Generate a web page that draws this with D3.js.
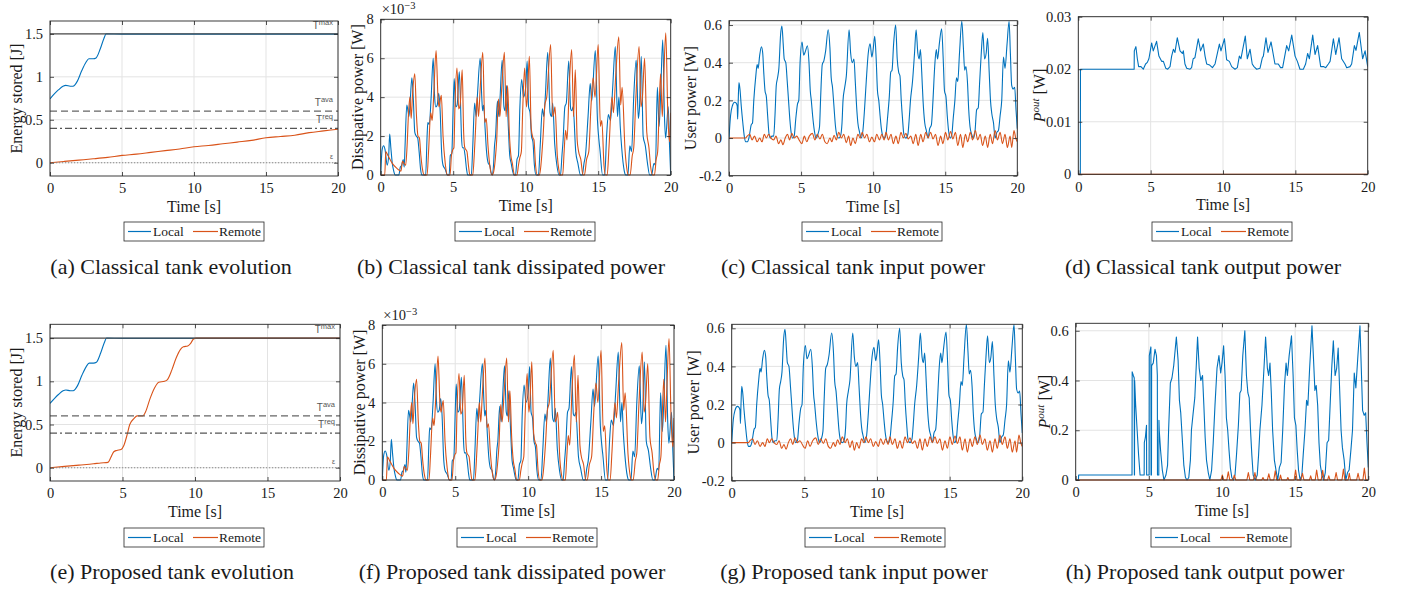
<!DOCTYPE html>
<html>
<head>
<meta charset="utf-8">
<script src="https://cdn.jsdelivr.net/npm/d3@7"></script>
<style>
  body { margin: 0; background: #fff; }
  svg { display: block; }
  text { font-family: "Liberation Serif", "Times New Roman", serif; fill: #1a1a1a; }
  .tlabel { font-family: "Liberation Sans", Arial, sans-serif; fill: #555; }
</style>
</head>
<body>
<svg id="fig" width="1403" height="589"></svg>
<script>
// ---------- time axis and tick labels ----------
const timeTicks = [0, 5, 10, 15, 20];
const energyTicks = [0, 0.5, 1, 1.5];
const dissTicks = [0, 2, 4, 6, 8];              // ×10^-3 W
const userTicks = [-0.2, 0, 0.2, 0.4, 0.6];
const outClassicTicks = [0, 0.01, 0.02, 0.03];
const outProposedTicks = [0, 0.2, 0.4, 0.6];

// ---------- tank thresholds [J] ----------
const thresholdNames = ["max", "ava", "req", "eps"];
const thresholdValues = [1.5, 0.6, 0.4, 0];

// ---------- stored energy [J] : [time s, value] ----------
const energyLocal = [[0,0.744],[0.3,0.8],[0.6,0.85],[0.9,0.89],[1.1,0.9],[1.4,0.89],[1.6,0.89],[1.9,0.95],[2.2,1.07],[2.5,1.17],[2.7,1.21],[3.0,1.21],[3.2,1.22],[3.5,1.33],[3.75,1.45],[3.9,1.5],[5,1.497],[10,1.497],[20,1.497]];
const energyRemoteClassic = [[0,0],[1,0.015],[2,0.03],[3,0.045],[4,0.062],[5,0.085],[6,0.1],[7,0.12],[8,0.14],[9,0.16],[10,0.185],[11,0.2],[12,0.22],[13,0.24],[14,0.26],[15,0.29],[16,0.305],[17,0.32],[18,0.35],[19,0.37],[20,0.39]];
const energyRemoteProposed = [[0,0],[2,0.03],[3,0.045],[3.5,0.055],[4.0,0.062],[4.2,0.12],[4.4,0.185],[4.6,0.2],[4.9,0.21],[5.1,0.26],[5.3,0.37],[5.5,0.5],[5.8,0.57],[6.0,0.6],[6.4,0.6],[6.6,0.65],[6.9,0.8],[7.2,0.92],[7.5,0.99],[7.9,1.0],[8.1,1.02],[8.4,1.13],[8.7,1.27],[9.0,1.37],[9.2,1.4],[9.5,1.41],[9.7,1.44],[9.9,1.49],[10.1,1.5],[20,1.5]];

// ---------- dissipated power [10^-3 W] ----------
const dissLocal = [[0,0],[0.1,1.3],[0.2,1.5],[0.3,1.3],[0.45,0.5],[0.55,1.0],[0.62,2.1],[0.7,1.4],[0.8,0.6],[0.9,0.2],[1.0,0],[1.25,0],[1.35,0.4],[1.45,0.5],[1.55,0.8],[1.62,0.4],[1.68,1.5],[1.8,3.6],[1.9,3.2],[1.95,3.0],[2.05,4.0],[2.15,5.0],[2.25,3.9],[2.35,2.2],[2.45,2.0],[2.55,1.9],[2.65,1.2],[2.75,0.3],[2.85,0],[3.1,0],[3.2,2.0],[3.25,2.7],[3.35,2.6],[3.48,4.0],[3.62,6.0],[3.72,4.0],[3.8,3.5],[3.9,3.6],[4.0,4.2],[4.1,3.3],[4.2,1.2],[4.3,0.5],[4.45,0.3],[4.6,0],[4.72,0],[4.8,1.0],[4.9,1.1],[5.0,3.5],[5.07,4.95],[5.17,3.5],[5.27,3.6],[5.42,5.3],[5.5,3.8],[5.57,2.0],[5.63,1.4],[5.72,1.4],[5.82,1.0],[5.92,0.3],[6.0,0],[6.25,0],[6.35,1.5],[6.48,3.7],[6.58,3.0],[6.68,4.2],[6.86,6.0],[6.97,4.0],[7.03,3.3],[7.1,3.6],[7.2,2.4],[7.3,1.2],[7.42,0.6],[7.52,0.5],[7.62,0.1],[7.7,0],[7.78,0.5],[7.85,1.5],[7.92,2.0],[8.05,3.8],[8.15,3.0],[8.22,3.8],[8.38,5.9],[8.5,3.5],[8.58,3.3],[8.68,4.6],[8.8,2.5],[8.9,1.0],[9.0,0.6],[9.1,0.2],[9.18,0],[9.3,0],[9.4,0.8],[9.5,1.0],[9.6,3.5],[9.72,4.9],[9.85,4.0],[10.0,4.5],[10.1,5.85],[10.2,3.5],[10.3,3.2],[10.4,2.0],[10.5,1.7],[10.6,0.5],[10.72,0],[10.88,0],[11.0,1.5],[11.15,3.4],[11.25,3.0],[11.35,4.0],[11.52,6.3],[11.68,3.2],[11.78,3.0],[11.86,3.7],[12.0,1.6],[12.15,0.5],[12.3,0],[12.4,0],[12.5,1.0],[12.58,1.8],[12.7,3.5],[12.8,3.7],[12.97,5.85],[13.1,3.4],[13.18,3.3],[13.27,3.5],[13.45,1.2],[13.6,0.6],[13.78,0],[13.9,0],[14.02,0.6],[14.12,1.0],[14.3,3.0],[14.45,4.7],[14.55,3.8],[14.8,6.4],[14.95,2.8],[15.05,1.8],[15.12,1.3],[15.3,0],[15.45,0],[15.58,2.0],[15.7,3.1],[15.85,2.8],[16.0,4.5],[16.18,6.6],[16.33,3.0],[16.43,4.0],[16.52,2.5],[16.62,1.4],[16.8,0.2],[16.9,0],[17.05,0],[17.18,1.5],[17.3,1.2],[17.45,4.0],[17.62,5.9],[17.77,2.9],[17.85,3.5],[17.97,6.1],[18.1,2.0],[18.25,1.5],[18.4,0.6],[18.55,0],[18.68,0],[18.85,0.6],[18.95,0.5],[19.08,4.5],[19.2,2.5],[19.3,4.0],[19.45,6.95],[19.57,3.0],[19.65,1.9],[19.83,3.5],[19.92,1.5],[20,0]];
const dissRemote = [[0,0],[0.28,0],[0.35,1.2],[0.5,1.0],[0.8,0.6],[1.1,0.35],[1.4,0.2],[1.5,0.7],[1.6,0.6],[1.72,0.5],[1.82,1.5],[1.92,3.2],[2.02,4.0],[2.1,2.9],[2.2,4.2],[2.35,5.2],[2.47,3.0],[2.57,2.0],[2.67,1.9],[2.77,1.0],[2.88,0.3],[3.0,0],[3.2,0],[3.3,1.2],[3.45,3.2],[3.55,2.8],[3.65,4.0],[3.82,6.4],[3.95,4.0],[4.02,3.5],[4.18,4.1],[4.3,2.0],[4.45,0.6],[4.6,0],[4.78,0],[4.88,1.0],[4.97,1.3],[5.05,1.4],[5.12,3.5],[5.26,5.5],[5.38,3.4],[5.48,3.6],[5.62,5.4],[5.72,2.2],[5.8,1.4],[5.95,1.2],[6.05,0.5],[6.15,0],[6.35,0],[6.45,1.0],[6.55,2.5],[6.65,4.0],[6.75,3.0],[6.85,4.3],[7.04,6.3],[7.18,2.7],[7.28,2.9],[7.4,1.5],[7.52,0.5],[7.68,0],[7.8,0.2],[7.9,0.8],[8.0,1.8],[8.12,3.9],[8.22,3.0],[8.35,4.5],[8.53,6.3],[8.65,3.0],[8.75,4.6],[8.87,2.2],[8.98,1.0],[9.08,0.6],[9.22,0],[9.4,0],[9.5,0.5],[9.6,0.9],[9.7,1.2],[9.8,3.5],[9.93,5.5],[10.05,3.5],[10.12,4.0],[10.25,6.1],[10.38,2.4],[10.5,1.9],[10.57,1.8],[10.68,0.5],[10.8,0],[10.95,0],[11.05,0.5],[11.2,2.0],[11.32,3.6],[11.45,4.0],[11.72,6.7],[11.86,3.0],[11.95,3.2],[12.02,3.5],[12.18,1.0],[12.28,0.3],[12.38,0],[12.55,0],[12.65,1.2],[12.75,2.3],[12.85,1.8],[13.0,4.5],[13.17,6.45],[13.3,3.0],[13.42,5.4],[13.55,1.8],[13.65,1.2],[13.8,0.8],[13.95,0],[14.05,0],[14.2,0.8],[14.35,1.2],[14.5,3.5],[14.65,5.0],[14.78,4.0],[15.0,6.7],[15.15,2.5],[15.25,2.8],[15.4,0.5],[15.5,0],[15.62,0],[15.75,1.5],[15.95,4.0],[16.05,3.2],[16.2,5.0],[16.42,7.1],[16.55,3.6],[16.65,4.5],[16.85,1.3],[17.0,0.2],[17.08,0],[17.2,0],[17.35,1.0],[17.45,1.4],[17.6,4.0],[17.82,6.6],[17.95,3.5],[18.05,4.0],[18.2,6.0],[18.35,2.2],[18.5,1.4],[18.62,0.4],[18.75,0],[18.88,0],[19.0,0.8],[19.1,1.2],[19.3,5.2],[19.42,3.0],[19.5,4.5],[19.66,7.3],[19.8,3.2],[19.88,2.0],[19.93,1.7],[20,3.2]];

// ---------- user (input) power [W] ----------
const userLocal = [[0,0],[0.11,0.12],[0.23,0.17],[0.39,0.19],[0.5,0.185],[0.57,0.17],[0.6,0.1],[0.64,0.2],[0.69,0.295],[0.76,0.26],[0.85,0.17],[0.96,0.08],[1.06,0.01],[1.15,-0.02],[1.26,-0.02],[1.38,0],[1.47,0.04],[1.54,0.07],[1.63,0.08],[1.72,0.2],[1.86,0.33],[1.95,0.39],[2.02,0.37],[2.13,0.44],[2.25,0.485],[2.34,0.45],[2.41,0.35],[2.5,0.25],[2.59,0.22],[2.68,0.12],[2.78,0.02],[2.87,0],[2.98,0.01],[3.1,0.01],[3.19,0.12],[3.28,0.28],[3.37,0.32],[3.46,0.37],[3.58,0.55],[3.67,0.595],[3.76,0.5],[3.83,0.42],[3.94,0.4],[4.04,0.3],[4.13,0.2],[4.22,0.1],[4.31,0.03],[4.4,0],[4.52,0.01],[4.63,0.1],[4.75,0.18],[4.84,0.2],[4.93,0.4],[5.07,0.51],[5.18,0.44],[5.3,0.46],[5.44,0.49],[5.55,0.4],[5.64,0.25],[5.71,0.2],[5.8,0.12],[5.92,0.04],[6.03,0],[6.17,0.02],[6.28,0.06],[6.35,0.2],[6.47,0.39],[6.58,0.41],[6.7,0.46],[6.88,0.575],[7.0,0.48],[7.09,0.32],[7.18,0.27],[7.27,0.18],[7.39,0.06],[7.5,0.01],[7.61,0],[7.73,0.01],[7.84,0.08],[7.91,0.2],[8.03,0.27],[8.14,0.33],[8.33,0.575],[8.44,0.45],[8.55,0.4],[8.67,0.42],[8.76,0.3],[8.85,0.17],[8.94,0.08],[9.06,0.03],[9.17,0],[9.29,0.04],[9.4,0.15],[9.52,0.3],[9.66,0.45],[9.79,0.5],[9.91,0.43],[10.0,0.47],[10.11,0.54],[10.21,0.42],[10.3,0.25],[10.39,0.2],[10.48,0.12],[10.57,0.05],[10.67,0.01],[10.78,0],[10.89,0.02],[10.99,0.1],[11.12,0.22],[11.22,0.35],[11.31,0.36],[11.42,0.5],[11.56,0.6],[11.67,0.42],[11.77,0.35],[11.86,0.33],[11.95,0.2],[12.04,0.1],[12.13,0.02],[12.27,0],[12.41,0.02],[12.5,0.1],[12.59,0.2],[12.73,0.3],[12.87,0.45],[12.98,0.575],[13.1,0.45],[13.19,0.42],[13.28,0.47],[13.37,0.35],[13.46,0.2],[13.58,0.08],[13.69,0.04],[13.81,0],[13.92,0.05],[14.04,0.07],[14.15,0.2],[14.27,0.38],[14.38,0.47],[14.47,0.42],[14.59,0.5],[14.75,0.58],[14.86,0.42],[14.95,0.25],[15.05,0.22],[15.14,0.12],[15.23,0.04],[15.34,0],[15.46,0.02],[15.55,0.1],[15.67,0.2],[15.78,0.32],[15.87,0.3],[15.99,0.45],[16.15,0.62],[16.26,0.48],[16.35,0.36],[16.44,0.38],[16.54,0.3],[16.63,0.15],[16.72,0.06],[16.83,0.02],[16.95,0],[17.06,0.03],[17.18,0.15],[17.29,0.16],[17.39,0.3],[17.5,0.45],[17.61,0.56],[17.73,0.42],[17.84,0.45],[17.94,0.53],[18.05,0.35],[18.14,0.2],[18.23,0.13],[18.35,0.08],[18.46,0],[18.58,0.03],[18.69,0.04],[18.81,0.12],[18.92,0.2],[19.04,0.43],[19.15,0.37],[19.29,0.5],[19.43,0.62],[19.52,0.45],[19.61,0.28],[19.72,0.26],[19.82,0.27],[19.91,0.15],[20,0.05]];
const userRemote = [[0,0],[1.15,0],[1.26,0.01],[1.44,0.02],[1.6,-0.01],[1.77,0.01],[1.95,-0.02],[2.13,0],[2.29,-0.02],[2.45,0.02],[2.59,0],[2.75,0.02],[2.91,0],[3.1,-0.01],[3.26,0.01],[3.44,-0.03],[3.6,-0.01],[3.74,-0.035],[3.9,0],[4.06,0.02],[4.2,-0.01],[4.36,0.025],[4.52,0],[4.7,0.01],[4.86,-0.01],[5.05,-0.03],[5.23,0.01],[5.39,-0.02],[5.57,0.01],[5.78,0.025],[5.96,-0.01],[6.12,0.02],[6.31,-0.005],[6.47,0.02],[6.65,-0.02],[6.81,-0.03],[7.0,0],[7.13,-0.02],[7.29,0.015],[7.45,-0.01],[7.61,0.03],[7.8,0],[7.96,0.02],[8.14,-0.025],[8.3,0.01],[8.44,-0.04],[8.6,0],[8.76,-0.03],[8.94,0.02],[9.1,0],[9.24,0.03],[9.4,0],[9.56,0.02],[9.75,-0.02],[9.91,0.005],[10.09,-0.02],[10.25,0.02],[10.44,-0.01],[10.6,0.02],[10.76,-0.01],[10.89,0.03],[11.06,-0.01],[11.24,0.02],[11.4,-0.03],[11.58,0.01],[11.74,-0.03],[11.93,0.03],[12.09,0],[12.27,0.025],[12.43,-0.005],[12.61,0.01],[12.78,-0.03],[12.96,0.02],[13.12,-0.04],[13.3,0.02],[13.46,-0.02],[13.65,0.03],[13.81,0],[13.99,0.03],[14.15,-0.005],[14.33,0.02],[14.5,-0.04],[14.68,0.01],[14.84,-0.03],[15.02,0.03],[15.18,-0.01],[15.37,0.035],[15.53,-0.005],[15.71,0.03],[15.87,-0.04],[16.06,0.02],[16.22,-0.05],[16.4,0.02],[16.56,-0.02],[16.74,0.03],[16.9,-0.01],[17.09,0.04],[17.25,-0.01],[17.43,0.02],[17.59,-0.04],[17.78,0.01],[17.94,-0.05],[18.12,0.02],[18.28,-0.03],[18.46,0.04],[18.62,-0.01],[18.81,0.03],[18.97,-0.03],[19.15,0.02],[19.31,-0.05],[19.5,0.01],[19.61,-0.05],[19.77,0.04],[19.89,0],[20,-0.02]];

// ---------- output power, classical tank [W] ----------
const outLocalClassic = [[0,0],[0.14,0],[0.15,0.02],[3.86,0.02],[3.87,0.0235],[3.98,0.0243],[4.08,0.022],[4.17,0.0205],[4.33,0.0205],[4.49,0.02],[4.65,0.021],[4.77,0.0213],[4.88,0.022],[5.07,0.025],[5.18,0.0235],[5.41,0.0253],[5.57,0.0225],[5.76,0.0215],[5.88,0.0215],[6.04,0.0202],[6.18,0.02],[6.34,0.0205],[6.45,0.0225],[6.57,0.0238],[6.68,0.0232],[6.84,0.026],[7.03,0.0235],[7.19,0.023],[7.26,0.0235],[7.37,0.021],[7.49,0.0202],[7.72,0.02],[7.83,0.0203],[7.94,0.022],[8.06,0.0222],[8.29,0.0258],[8.45,0.0235],[8.64,0.0248],[8.76,0.0225],[8.87,0.021],[9.08,0.0208],[9.27,0.0203],[9.45,0.021],[9.75,0.0248],[9.86,0.0235],[10.1,0.0258],[10.25,0.0218],[10.44,0.0215],[10.6,0.0205],[10.83,0.02],[10.99,0.0203],[11.13,0.0225],[11.24,0.022],[11.54,0.0263],[11.68,0.022],[11.87,0.0238],[12.02,0.021],[12.14,0.0205],[12.33,0.02],[12.56,0.0202],[12.72,0.0222],[12.79,0.0225],[12.97,0.026],[13.11,0.0232],[13.32,0.0252],[13.59,0.021],[13.82,0.021],[13.98,0.0203],[14.12,0.0203],[14.4,0.0245],[14.54,0.0235],[14.75,0.0265],[14.98,0.0225],[15.14,0.0215],[15.32,0.02],[15.55,0.02],[15.71,0.021],[15.85,0.023],[15.97,0.022],[16.2,0.0265],[16.36,0.0228],[16.54,0.0245],[16.75,0.0205],[16.94,0.0205],[17.1,0.0203],[17.28,0.021],[17.4,0.0215],[17.63,0.0258],[17.79,0.0228],[18.02,0.026],[18.2,0.022],[18.43,0.021],[18.55,0.0203],[18.78,0.0205],[18.89,0.021],[19.08,0.0245],[19.19,0.0236],[19.42,0.027],[19.65,0.022],[19.82,0.0235],[20,0.0205]];
const outRemoteClassic = [[0,0],[20,0]];

// ---------- output power, proposed tank [W] ----------
// switching phase up to 5.69 s; afterwards the output follows userLocal
const outLocalProposedStart = [[0,0],[0.19,0],[0.2,0.02],[3.85,0.02],[3.86,0.435],[3.94,0.42],[4.0,0.41],[4.01,0.02],[4.02,0.02],[4.03,0.4],[4.1,0.3],[4.2,0.2],[4.3,0.1],[4.4,0.02],[4.68,0.02],[4.69,0.15],[4.76,0.17],[4.84,0.22],[4.85,0.02],[5.02,0.02],[5.03,0.5],[5.14,0.535],[5.15,0.02],[5.18,0.02],[5.19,0.46],[5.3,0.47],[5.42,0.525],[5.52,0.5],[5.58,0.42],[5.59,0.02],[5.68,0.02],[5.69,0.24]];
const outRemoteProposed = [[0,0],[9.93,0],[10.02,0.02],[10.12,0],[10.33,0],[10.43,0.033],[10.53,0],[10.75,0],[10.84,0.02],[10.94,0],[11.7,0],[11.8,0.03],[11.9,0],[12.15,0],[12.25,0.03],[12.35,0],[12.72,0],[12.8,0.01],[12.88,0],[13.1,0],[13.2,0.025],[13.3,0],[13.54,0],[13.64,0.037],[13.74,0],[13.92,0],[14.0,0.02],[14.08,0],[14.43,0],[14.5,0.01],[14.57,0],[14.93,0],[15.03,0.04],[15.13,0],[15.4,0],[15.5,0.027],[15.6,0],[15.98,0],[16.06,0.017],[16.14,0],[16.37,0],[16.47,0.04],[16.57,0],[16.78,0],[16.88,0.039],[16.98,0],[17.22,0],[17.3,0.017],[17.38,0],[17.7,0],[17.8,0.03],[17.9,0],[18.2,0],[18.3,0.044],[18.4,0],[18.62,0],[18.7,0.027],[18.78,0],[19.2,0],[19.3,0.027],[19.4,0],[19.63,0],[19.73,0.048],[19.83,0],[20,0]];
const outLocalProposed = outLocalProposedStart.concat(userLocal.filter(d => d[0] > 5.69));

// ---------- figure ----------
const BLUE = "#0072BD", RED = "#D95319", AXIS = "#262626", GRID = "#e3e3e3";
const svg = d3.select("#fig");
const defs = svg.append("defs");

function legend(left, top) {
  const g = svg.append("g").attr("transform", `translate(${left},${top})`);
  g.append("rect").attr("width", 140).attr("height", 19).attr("fill", "#fff").attr("stroke", AXIS).attr("stroke-width", 0.8);
  g.append("line").attr("x1", 4).attr("x2", 27).attr("y1", 9.5).attr("y2", 9.5).attr("stroke", BLUE).attr("stroke-width", 1.2);
  g.append("text").attr("x", 29).attr("y", 14).attr("font-size", 13.5).text("Local");
  g.append("line").attr("x1", 69).attr("x2", 94).attr("y1", 9.5).attr("y2", 9.5).attr("stroke", RED).attr("stroke-width", 1.2);
  g.append("text").attr("x", 95).attr("y", 14).attr("font-size", 13.5).text("Remote");
}

function panel(p) {
  const x = d3.scaleLinear().domain([0, 20]).range([p.left, p.right]);
  const y = d3.scaleLinear().domain(p.yDomain).range([p.bottom, p.top]);
  const g = svg.append("g");
  const clipId = "clip-" + p.key;
  defs.append("clipPath").attr("id", clipId).append("rect")
    .attr("x", p.left).attr("y", p.top - 1).attr("width", p.right - p.left).attr("height", p.bottom - p.top + 2);

  // grid
  g.append("g").selectAll("line").data(timeTicks).join("line")
    .attr("x1", d => x(d)).attr("x2", d => x(d)).attr("y1", p.top).attr("y2", p.bottom)
    .attr("stroke", GRID).attr("stroke-width", 1);
  g.append("g").selectAll("line").data(p.yTicks).join("line")
    .attr("x1", p.left).attr("x2", p.right).attr("y1", d => y(d)).attr("y2", d => y(d))
    .attr("stroke", GRID).attr("stroke-width", 1);

  // data
  const line = d3.line().x(d => x(d[0])).y(d => y(d[1])).curve(p.curve || d3.curveMonotoneX);
  const data = g.append("g").attr("clip-path", `url(#${clipId})`);
  p.series.forEach(s => {
    data.append("path").datum(s.values).attr("d", line)
      .attr("fill", "none").attr("stroke", s.color).attr("stroke-width", 1.1).attr("stroke-linejoin", "round");
  });

  // tank thresholds
  if (p.thresholds) {
    const dash = { max: null, ava: "7,4", req: "7,3,2,3", eps: "1.2,1.8" };
    const col = { max: "#4d4d4d", ava: "#666", req: "#555", eps: "#888" };
    thresholdNames.forEach((n, i) => {
      const v = thresholdValues[i];
      data.append("line").attr("x1", p.left).attr("x2", p.right).attr("y1", y(v)).attr("y2", y(v))
        .attr("stroke", col[n]).attr("stroke-width", n === "max" ? 1.3 : 1.1)
        .attr("stroke-dasharray", dash[n]);
      const t = g.append("text").attr("class", "tlabel").attr("text-anchor", "end")
        .attr("x", p.right - 5).attr("y", y(v) - 5).attr("font-size", 10);
      if (n === "eps") {
        t.attr("font-size", 7).attr("y", y(v) - 4).text("\u03B5");
      } else {
        t.append("tspan").text("T");
        t.append("tspan").attr("font-size", 7.5).attr("dy", -4).text(n);
      }
    });
  }

  // axes with inward ticks
  const fmt = d => String(d);
  g.append("g").attr("transform", `translate(0,${p.bottom})`)
    .call(d3.axisBottom(x).tickValues(timeTicks).tickFormat(fmt).tickSize(-4).tickPadding(7))
    .call(a => a.select(".domain").remove());
  g.append("g").attr("transform", `translate(0,${p.top})`)
    .call(d3.axisTop(x).tickValues(timeTicks).tickFormat("").tickSize(-4))
    .call(a => a.select(".domain").remove());
  g.append("g").attr("transform", `translate(${p.left},0)`)
    .call(d3.axisLeft(y).tickValues(p.yTicks).tickFormat(fmt).tickSize(-4).tickPadding(7))
    .call(a => a.select(".domain").remove());
  g.append("g").attr("transform", `translate(${p.right},0)`)
    .call(d3.axisRight(y).tickValues(p.yTicks).tickFormat("").tickSize(-4))
    .call(a => a.select(".domain").remove());
  g.selectAll(".tick line").attr("stroke", AXIS).attr("stroke-width", 0.8);
  g.selectAll(".tick text").attr("fill", "#1a1a1a").attr("font-family", "Liberation Serif, serif").attr("font-size", 14.5);
  g.append("rect").attr("x", p.left).attr("y", p.top).attr("width", p.right - p.left).attr("height", p.bottom - p.top)
    .attr("fill", "none").attr("stroke", AXIS).attr("stroke-width", 0.9);

  // labels
  const cx = (p.left + p.right) / 2, cy = (p.top + p.bottom) / 2;
  g.append("text").attr("x", cx).attr("y", p.bottom + 36).attr("text-anchor", "middle").attr("font-size", 16).text("Time [s]");
  const yl = g.append("text").attr("transform", `translate(${p.ylabelX},${cy}) rotate(-90)`)
    .attr("text-anchor", "middle").attr("dy", "0.35em").attr("font-size", 16);
  if (p.ylabelParts) {
    p.ylabelParts(yl);
  } else {
    yl.text(p.ylabel);
  }
  if (p.exponent) {
    const e = g.append("text").attr("x", p.left + 1).attr("y", p.top - 5).attr("font-size", 14.5);
    e.append("tspan").text("\u00D710");
    e.append("tspan").attr("font-size", 10.5).attr("dy", -5).text("\u22123");
  }

  legend(p.legendLeft, p.legendTop);
  g.append("text").attr("x", p.captionX).attr("y", p.captionY).attr("text-anchor", "middle")
    .attr("font-size", 22).text(p.caption);
}

const poutLabel = t => {
  t.append("tspan").attr("font-style", "italic").text("P");
  t.append("tspan").attr("font-style", "italic").attr("font-size", 11).attr("dy", -6).text("out");
  t.append("tspan").attr("dy", 6).text(" [W]");
};

const top1 = { legendTop: 222, captionY: 274 };
const top2 = { legendTop: 528, captionY: 579 };

panel({ key: "a", left: 50, right: 338, top: 21, bottom: 176, yDomain: [-0.155, 1.65], yTicks: energyTicks,
  ylabel: "Energy stored [J]", ylabelX: 16, thresholds: true,
  series: [{ values: energyLocal, color: BLUE }, { values: energyRemoteClassic, color: RED }],
  legendLeft: 124, legendTop: top1.legendTop, caption: "(a) Classical tank evolution", captionX: 171, captionY: top1.captionY });

panel({ key: "b", left: 380.7, right: 670.7, top: 19.3, bottom: 175, yDomain: [0, 8], yTicks: dissTicks,
  ylabel: "Dissipative power [W]", ylabelX: 357, exponent: true,
  series: [{ values: dissLocal, color: BLUE }, { values: dissRemote, color: RED }],
  legendLeft: 455, legendTop: top1.legendTop, caption: "(b) Classical tank dissipated power", captionX: 511, captionY: top1.captionY });

panel({ key: "c", left: 729, right: 1017.3, top: 20.7, bottom: 175.7, yDomain: [-0.2, 0.623], yTicks: userTicks,
  ylabel: "User power [W]", ylabelX: 690,
  series: [{ values: userLocal, color: BLUE }, { values: userRemote, color: RED }],
  legendLeft: 802, legendTop: top1.legendTop, caption: "(c) Classical tank input power", captionX: 853, captionY: top1.captionY });

panel({ key: "d", left: 1078.3, right: 1367.7, top: 16.7, bottom: 174.3, yDomain: [0, 0.03], yTicks: outClassicTicks,
  ylabelParts: poutLabel, ylabelX: 1039, curve: d3.curveLinear,
  series: [{ values: outLocalClassic, color: BLUE }, { values: outRemoteClassic, color: RED }],
  legendLeft: 1152, legendTop: top1.legendTop, caption: "(d) Classical tank output power", captionX: 1203, captionY: top1.captionY });

panel({ key: "e", left: 50, right: 340, top: 324.3, bottom: 481, yDomain: [-0.154, 1.66], yTicks: energyTicks,
  ylabel: "Energy stored [J]", ylabelX: 16, thresholds: true,
  series: [{ values: energyLocal, color: BLUE }, { values: energyRemoteProposed, color: RED }],
  legendLeft: 124, legendTop: top2.legendTop, caption: "(e) Proposed tank evolution", captionX: 172, captionY: top2.captionY });

panel({ key: "f", left: 382.3, right: 674, top: 325, bottom: 480, yDomain: [0, 8], yTicks: dissTicks,
  ylabel: "Dissipative power [W]", ylabelX: 359, exponent: true,
  series: [{ values: dissLocal, color: BLUE }, { values: dissRemote, color: RED }],
  legendLeft: 457, legendTop: top2.legendTop, caption: "(f) Proposed tank dissipated power", captionX: 512, captionY: top2.captionY });

panel({ key: "g", left: 731.7, right: 1022.3, top: 324.3, bottom: 480.7, yDomain: [-0.2, 0.621], yTicks: userTicks,
  ylabel: "User power [W]", ylabelX: 693,
  series: [{ values: userLocal, color: BLUE }, { values: userRemote, color: RED }],
  legendLeft: 805, legendTop: top2.legendTop, caption: "(g) Proposed tank input power", captionX: 854, captionY: top2.captionY });

panel({ key: "h", left: 1075.7, right: 1368.3, top: 323.3, bottom: 480, yDomain: [0, 0.63], yTicks: outProposedTicks,
  ylabelParts: poutLabel, ylabelX: 1044, curve: d3.curveLinear,
  series: [{ values: outLocalProposed, color: BLUE }, { values: outRemoteProposed, color: RED }],
  legendLeft: 1151, legendTop: top2.legendTop, caption: "(h) Proposed tank output power", captionX: 1205, captionY: top2.captionY });
</script>
</body>
</html>
